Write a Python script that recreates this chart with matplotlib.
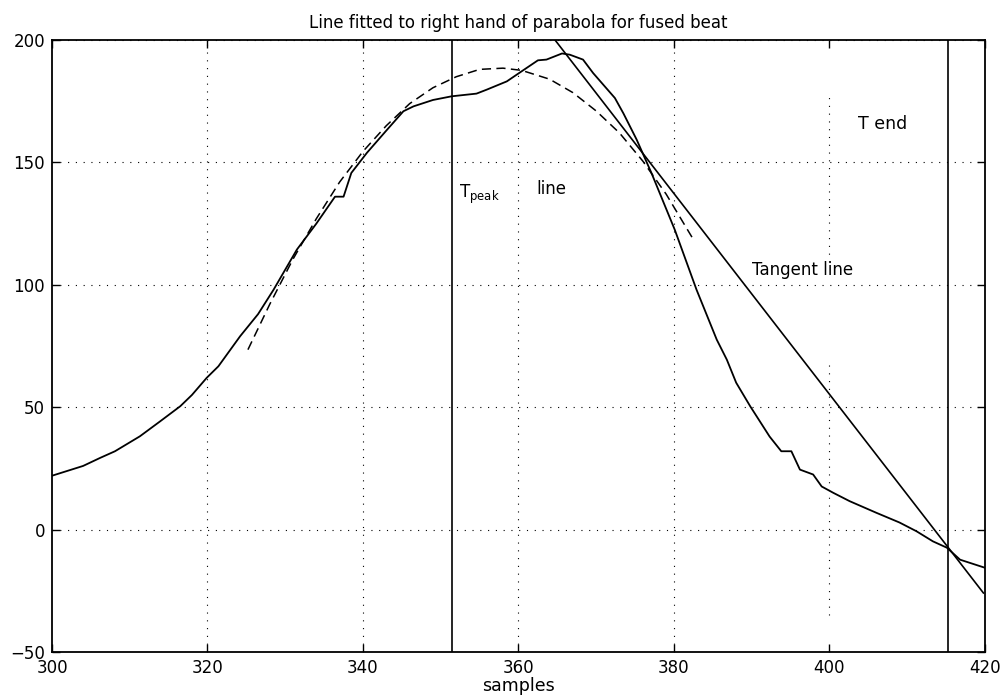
import matplotlib.pyplot as plt

# measured beat (solid curve)
beat_x = [300, 304, 306.2, 308.1, 311.3, 313.9, 316.5, 318, 319.9, 321.4, 324.2, 326.5, 328.5,
          331.5, 334, 336.4, 337.5, 338.5, 340.5, 343, 345.2, 346.5, 349, 351.4, 354.6, 355.9,
          358.5, 360.4, 362.5, 363.6, 365.6, 366.6, 368.3, 369.6, 372.4, 373.5, 375.2, 377.1,
          380.1, 382.9, 385.5, 386.8, 388, 389.8, 392.3, 393.8, 395.1, 396.2, 397.9, 399, 400.5,
          402.6, 406, 409, 411.2, 413.3, 415.1, 416.8, 420]
beat_y = [22, 26, 29.3, 32, 38.1, 44.2, 50.4, 55, 62, 66.7, 79, 88, 98,
          114.4, 125, 136, 136, 145.7, 153.9, 163, 170.9, 172.9, 175.5, 177, 178.1, 179.7,
          183.1, 187.2, 191.7, 192, 194.5, 194, 192, 186.5, 176.3, 170, 159.3, 145.7,
          122.5, 98, 77.6, 69.4, 60, 50.4, 38, 32, 32, 24.5, 22.5, 17.6, 15,
          11.6, 6.9, 2.9, -0.7, -4.8, -7.4, -12.3, -15.6]

# fitted parabola (dashed)
fit_x = [325.2, 328, 331, 334, 337, 340, 343, 346, 349, 352, 355, 358, 360.4, 364, 367, 370,
         373, 376, 379, 382.4]
fit_y = [73.5, 92, 110.5, 127, 142, 154.5, 165, 174, 180.5, 185, 188, 188.5, 187.6, 184,
         178.5, 171, 162, 150.5, 137, 119]

# tangent line end points
tan_x = [364.7, 419.8]
tan_y = [200, -25.9]

t_peak = 351.4
t_end = 415.2

xticks = [300, 320, 340, 360, 380, 400, 420]
yticks = [-50, 0, 50, 100, 150, 200]

fig = plt.figure(figsize=(10.02, 6.97), dpi=100)
ax = fig.add_axes([0.0519, 0.0646, 0.9311, 0.878])

ax.plot(beat_x, beat_y, color='black', lw=1.3)
ax.plot(fit_x, fit_y, color='black', lw=1.1, linestyle=(0, (6, 3.5)))
ax.plot(tan_x, tan_y, color='black', lw=1.2)
ax.axvline(t_peak, color='black', lw=1.2)
ax.axvline(t_end, color='black', lw=1.2)

ax.set_xlim(300, 420)
ax.set_ylim(-50, 200)
ax.set_xticks(xticks)
ax.set_yticks(yticks)

# dotted grid; the 400 line is broken up in the original print
grid_style = dict(color='black', linestyle=(0, (1, 6)), lw=0.8, zorder=0.5)
ax.grid(True, axis='y', **grid_style)
ax.vlines([320, 340, 360, 380], -50, 200, **grid_style)
ax.vlines([400, 400], [109.5, -34.7], [177.7, 68.6], **grid_style)

ax.tick_params(direction='in', length=6, width=1, top=True, right=True,
               labelsize=12, pad=5)
for s in ax.spines.values():
    s.set_linewidth(1.3)

ax.set_title('Line fitted to right hand of parabola for fused beat', fontsize=12, pad=9)
ax.set_xlabel('samples', fontsize=12.5, labelpad=0)

ax.text(352.3, 137, r'$\mathregular{T_{peak}}$', fontsize=12, va='center')
ax.text(362.3, 139, 'line', fontsize=12, va='center')
ax.text(390, 106, 'Tangent line', fontsize=12, va='center')
ax.text(403.7, 165.5, 'T end', fontsize=12.5, va='center')

fig.savefig('out.png', dpi=100)
